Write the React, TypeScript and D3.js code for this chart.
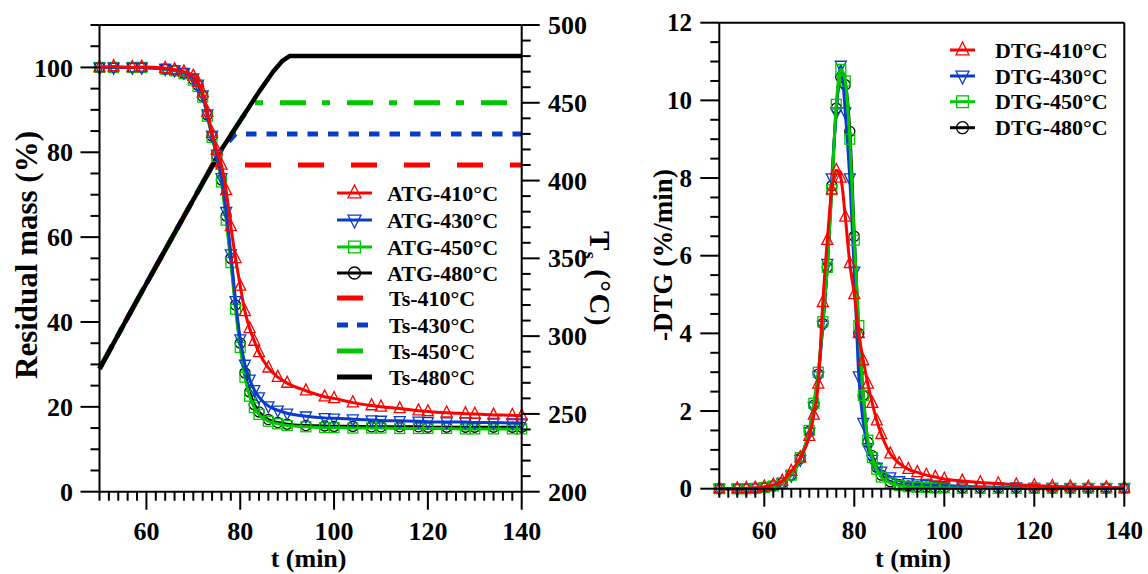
import React from "react";
import * as d3 from "d3";

// ---------- data ----------
const atgTime = [50, 53, 57, 59, 64, 66, 68, 70, 71, 72, 73, 74, 75, 76, 77, 78, 79, 80, 81, 82, 83, 84, 86, 88, 90, 94, 98, 100, 104, 108, 110, 114, 118, 120, 124, 128, 130, 134, 138, 140];
const atg410 = [100, 100.2, 100, 100.1, 99.8, 99.5, 99, 98, 96.5, 94, 89.5, 84.5, 80.5, 77, 71, 62.5, 55, 48.5, 42.5, 38.5, 35.5, 32.8, 29.2, 27, 25.6, 23.8, 22.4, 22, 21, 20.3, 20, 19.6, 19.1, 18.9, 18.6, 18.4, 18.3, 18.1, 18, 17.9];
const atg430 = [100, 100, 100, 100, 99.7, 99.4, 98.8, 97.5, 96, 93.5, 89, 84, 79.5, 74, 66, 56, 45, 36, 30, 26.5, 24, 22.3, 20.2, 19.2, 18.5, 17.8, 17.4, 17.3, 17.1, 16.9, 16.8, 16.7, 16.6, 16.5, 16.4, 16.4, 16.3, 16.3, 16.2, 16.2];
const atg450 = [100, 100, 100, 100, 99.6, 99.2, 98.5, 97, 95.5, 93, 88.5, 83.5, 79, 73, 64, 54, 43, 34, 27, 22.5, 19.8, 18.2, 16.6, 16, 15.6, 15.3, 15.1, 15.1, 15, 15, 15, 14.9, 14.9, 14.9, 14.9, 14.8, 14.8, 14.8, 14.8, 14.8];
const atg480 = [100, 100, 100, 100, 99.6, 99.3, 98.6, 97.2, 95.8, 93.2, 88.8, 83.8, 79.2, 73.5, 65, 55, 44, 35, 28, 23.5, 20.5, 18.8, 17, 16.3, 15.9, 15.6, 15.5, 15.4, 15.4, 15.3, 15.3, 15.3, 15.3, 15.2, 15.2, 15.2, 15.2, 15.2, 15.2, 15.2];

const dtgTime = [50, 54, 56, 58, 60, 62, 64, 66, 68, 70, 71, 72, 73, 74, 75, 76, 77, 78, 79, 80, 81, 82, 83, 84, 85, 86, 88, 90, 92, 94, 96, 98, 100, 104, 108, 112, 116, 120, 124, 128, 132, 136, 140];
const dtg410 = [0, 0, 0.01, 0.02, 0.05, 0.1, 0.2, 0.45, 0.8, 1.35, 1.9, 2.7, 4.8, 6.4, 7.7, 8.2, 8.0, 7.0, 5.8, 5.0, 4.0, 3.3, 2.7, 2.2, 1.75, 1.4, 0.9, 0.65, 0.5, 0.42, 0.35, 0.3, 0.25, 0.2, 0.16, 0.13, 0.1, 0.08, 0.06, 0.05, 0.04, 0.03, 0.02];
const dtg430 = [0, 0, 0, 0.01, 0.03, 0.07, 0.15, 0.35, 0.75, 1.45, 2.1, 2.9, 4.2, 5.8, 8.0, 9.7, 10.9, 9.7, 8.0, 5.6, 2.9, 1.7, 1.05, 0.75, 0.55, 0.45, 0.3, 0.2, 0.15, 0.12, 0.1, 0.09, 0.08, 0.06, 0.05, 0.04, 0.04, 0.03, 0.03, 0.02, 0.02, 0.02, 0.02];
const dtg450 = [0, 0, 0, 0.01, 0.03, 0.07, 0.15, 0.35, 0.8, 1.5, 2.2, 3.0, 4.3, 5.7, 7.7, 9.9, 10.8, 10.5, 9.0, 6.4, 4.2, 2.4, 1.25, 0.8, 0.5, 0.3, 0.15, 0.08, 0.05, 0.04, 0.03, 0.02, 0.02, 0.01, 0.01, 0.01, 0.01, 0.01, 0.01, 0.01, 0.01, 0.01, 0.01];
const dtg480 = [0, 0, 0, 0.01, 0.03, 0.07, 0.15, 0.35, 0.78, 1.48, 2.15, 2.95, 4.25, 5.7, 7.8, 9.8, 10.6, 10.4, 9.2, 6.5, 4.0, 2.4, 1.2, 0.85, 0.55, 0.35, 0.18, 0.1, 0.07, 0.05, 0.04, 0.03, 0.03, 0.02, 0.02, 0.02, 0.02, 0.01, 0.01, 0.01, 0.01, 0.01, 0.01];

const tsTime410 = [50, 58, 68, 74.1, 140];
const ts410 = [279, 323, 377, 410, 410];
const tsTime430 = [50, 58, 68, 76, 79, 140];
const ts430 = [279, 323, 377, 420, 430, 430];
const tsTime450 = [50, 58, 68, 76, 82.5, 140];
const ts450 = [279, 323, 377, 420, 450, 450];
const tsTime480 = [50, 58, 68, 76, 84, 87, 89, 90.5, 140];
const ts480 = [279, 323, 377, 420, 457, 470, 477, 480, 480];

const timeMajorTicks = [60, 80, 100, 120, 140];
const massMajorTicks = [0, 20, 40, 60, 80, 100];
const tempMajorTicks = [200, 250, 300, 350, 400, 450, 500];
const dtgMajorTicks = [0, 2, 4, 6, 8, 10, 12];

const atgLabels = ["ATG-410°C", "ATG-430°C", "ATG-450°C", "ATG-480°C"];
const tsLabels = ["Ts-410°C", "Ts-430°C", "Ts-450°C", "Ts-480°C"];
const dtgLabels = ["DTG-410°C", "DTG-430°C", "DTG-450°C", "DTG-480°C"];

// ---------- styles ----------
const RED = "#ff0000";
const BLUE = "#0a3ccc";
const GREEN = "#00c800";
const BLACK = "#000000";
const FONT = "'Liberation Serif', 'Times New Roman', Times, serif";

type Shape = "up" | "down" | "square" | "circle";

function Marker({ shape, x, y, color, s = 11 }: { shape: Shape; x: number; y: number; color: string; s?: number }) {
  const common = { fill: "none", stroke: color, strokeWidth: 1.3 };
  if (shape === "up") {
    return <polygon points={`${x},${y - s * 0.62} ${x - s / 2},${y + s * 0.38} ${x + s / 2},${y + s * 0.38}`} {...common} />;
  }
  if (shape === "down") {
    return <polygon points={`${x},${y + s * 0.62} ${x - s / 2},${y - s * 0.38} ${x + s / 2},${y - s * 0.38}`} {...common} />;
  }
  if (shape === "square") {
    const h = s * 0.45;
    return <rect x={x - h} y={y - h} width={2 * h} height={2 * h} {...common} />;
  }
  return <circle cx={x} cy={y} r={s * 0.46} {...common} />;
}

export default function App() {
  // left panel scales
  const xL = d3.scaleLinear().domain([50, 140]).range([99.5, 521.7]);
  const yMass = d3.scaleLinear().domain([0, 110]).range([491.7, 25]);
  const yTemp = d3.scaleLinear().domain([200, 500]).range([491.7, 25]);
  // right panel scales
  const xR = d3.scaleLinear().domain([50, 140]).range([719.3, 1124.3]);
  const yDtg = d3.scaleLinear().domain([0, 12]).range([488.7, 22.7]);

  const minorTime = d3.range(50, 141, 2);
  const minorMass = d3.range(0, 111, 5);
  const minorTemp = d3.range(200, 501, 10);
  const minorDtg = d3.range(0, 12.01, 0.5);

  const curveLine = (xs: any, ys: any, tt: number[], vv: number[]) =>
    d3
      .line<number>()
      .x((_, i) => xs(tt[i]))
      .y((v) => ys(v))
      .curve(d3.curveMonotoneX)(vv) || "";

  const tsLine = (tt: number[], vv: number[]) =>
    d3
      .line<number>()
      .x((_, i) => xL(tt[i]))
      .y((v) => yTemp(v))(vv) || "";

  // dash offset so that the visible flat part starts with a dash at xTarget
  const dashOffset = (tt: number[], vv: number[], period: number, xTarget: number) => {
    let len = 0;
    const n = tt.length - 2; // corner index
    for (let i = 1; i <= n; i++) {
      const dx = xL(tt[i]) - xL(tt[i - 1]);
      const dy = yTemp(vv[i]) - yTemp(vv[i - 1]);
      len += Math.sqrt(dx * dx + dy * dy);
    }
    const s = len + (xTarget - xL(tt[n]));
    return period - (s % period);
  };

  const atgSeries = [
    { vals: atg480, color: BLACK, shape: "circle" as Shape },
    { vals: atg450, color: GREEN, shape: "square" as Shape },
    { vals: atg430, color: BLUE, shape: "down" as Shape },
    { vals: atg410, color: RED, shape: "up" as Shape },
  ];
  const dtgSeries = [
    { vals: dtg480, color: BLACK, shape: "circle" as Shape },
    { vals: dtg430, color: BLUE, shape: "down" as Shape },
    { vals: dtg450, color: GREEN, shape: "square" as Shape },
    { vals: dtg410, color: RED, shape: "up" as Shape },
  ];
  const legendSeries = [
    { color: RED, shape: "up" as Shape },
    { color: BLUE, shape: "down" as Shape },
    { color: GREEN, shape: "square" as Shape },
    { color: BLACK, shape: "circle" as Shape },
  ];

  const axisStroke = { stroke: "#000", strokeWidth: 2 };
  const tickFont = { fontFamily: FONT, fontWeight: 700 as const, fill: "#000" };

  const x0L = xL.range()[0], x1L = xL.range()[1];
  const y0L = yMass.range()[0], y1L = yMass.range()[1];
  const x0R = xR.range()[0], x1R = xR.range()[1];
  const y0R = yDtg.range()[0], y1R = yDtg.range()[1];

  const legendYAtg = [193, 220, 247, 273];
  const legendYTs = [298, 325, 351, 377];
  const legendYDtg = [50, 76, 101.7, 127.7];

  return (
    <svg width={1148} height={574} style={{ position: "absolute", left: 0, top: 0, background: "#fff" }}>
      <rect x={0} y={0} width={1148} height={574} fill="#fff" />

      {/* ================= LEFT PANEL ================= */}
      <path d={tsLine(tsTime410, ts410)} fill="none" stroke={RED} strokeWidth={5}
        strokeDasharray="26 27" strokeDashoffset={dashOffset(tsTime410, ts410, 53, 245)} />
      <path d={tsLine(tsTime430, ts430)} fill="none" stroke={BLUE} strokeWidth={5}
        strokeDasharray="10.5 10" strokeDashoffset={dashOffset(tsTime430, ts430, 20.5, 246)} />
      <path d={tsLine(tsTime450, ts450)} fill="none" stroke={GREEN} strokeWidth={5}
        strokeDasharray="26 16 8 17" strokeDashoffset={dashOffset(tsTime450, ts450, 67, 280)} />
      <path d={tsLine(tsTime480, ts480)} fill="none" stroke={BLACK} strokeWidth={4.5} strokeLinejoin="round" />

      {atgSeries.map((s, k) => (
        <g key={"atg" + k}>
          <path d={curveLine(xL, yMass, atgTime, s.vals)} fill="none" stroke={s.color} strokeWidth={3} />
          {s.vals.map((v, i) => (
            <Marker key={i} shape={s.shape} x={xL(atgTime[i])} y={yMass(v)} color={s.color} />
          ))}
        </g>
      ))}

      <line x1={x0L} y1={y1L} x2={x1L} y2={y1L} {...axisStroke} />
      <line x1={x0L} y1={y0L} x2={x1L} y2={y0L} {...axisStroke} />
      <line x1={x0L} y1={y0L} x2={x0L} y2={y1L} {...axisStroke} />
      <line x1={x1L} y1={y0L} x2={x1L} y2={y1L} {...axisStroke} />

      {minorTime.map((t) => (
        <line key={"lxm" + t} x1={xL(t)} x2={xL(t)} y1={y0L} y2={y0L + (timeMajorTicks.includes(t) ? 18 : 9)} {...axisStroke} />
      ))}
      {timeMajorTicks.map((t) => (
        <text key={"lxl" + t} x={xL(t)} y={540} textAnchor="middle" fontSize={26} {...tickFont}>{t}</text>
      ))}
      {minorMass.map((m) => (
        <line key={"lym" + m} x1={x0L} x2={x0L - (massMajorTicks.includes(m) ? 19 : 9)} y1={yMass(m)} y2={yMass(m)} {...axisStroke} />
      ))}
      {massMajorTicks.map((m) => (
        <text key={"lyl" + m} x={73} y={yMass(m)} dy="0.35em" textAnchor="end" fontSize={26} {...tickFont}>{m}</text>
      ))}
      {minorTemp.map((T) => (
        <line key={"rym" + T} x1={x1L} x2={x1L + (tempMajorTicks.includes(T) ? 18 : 9)} y1={yTemp(T)} y2={yTemp(T)} {...axisStroke} />
      ))}
      {tempMajorTicks.map((T) => (
        <text key={"ryl" + T} x={548} y={yTemp(T)} dy="0.35em" textAnchor="start" fontSize={26} {...tickFont}>{T}</text>
      ))}

      <text x={(x0L + x1L) / 2 - 2} y={567} textAnchor="middle" fontSize={26} {...tickFont}>t (min)</text>
      <text transform="translate(37,255) rotate(-90)" textAnchor="middle" fontSize={31} {...tickFont}>Residual mass (%)</text>
      <text transform="translate(590,279) rotate(90)" textAnchor="middle" fontSize={29} letterSpacing={1.5} {...tickFont}>
        T<tspan fontSize={18} dy={6}>s</tspan><tspan dy={-6}> (°C)</tspan>
      </text>

      {legendSeries.map((s, k) => (
        <g key={"la" + k}>
          <line x1={337} x2={372} y1={legendYAtg[k]} y2={legendYAtg[k]} stroke={s.color} strokeWidth={3} />
          <Marker shape={s.shape} x={354.5} y={legendYAtg[k]} color={s.color} s={13} />
          <text x={387} y={legendYAtg[k]} dy="0.35em" fontSize={22} {...tickFont}>{atgLabels[k]}</text>
        </g>
      ))}
      <line x1={337} x2={363} y1={legendYTs[0]} y2={legendYTs[0]} stroke={RED} strokeWidth={5} />
      <line x1={337} x2={368} y1={legendYTs[1]} y2={legendYTs[1]} stroke={BLUE} strokeWidth={5} strokeDasharray="11 9" />
      <line x1={337} x2={363} y1={legendYTs[2]} y2={legendYTs[2]} stroke={GREEN} strokeWidth={5} />
      <line x1={337} x2={372} y1={legendYTs[3]} y2={legendYTs[3]} stroke={BLACK} strokeWidth={5} />
      {tsLabels.map((l, k) => (
        <text key={"lt" + k} x={389} y={legendYTs[k]} dy="0.35em" fontSize={22} {...tickFont}>{l}</text>
      ))}

      {/* ================= RIGHT PANEL ================= */}
      {dtgSeries.map((s, k) => (
        <g key={"dtg" + k}>
          <path d={curveLine(xR, yDtg, dtgTime, s.vals)} fill="none" stroke={s.color} strokeWidth={3} />
          {s.vals.map((v, i) => (
            <Marker key={i} shape={s.shape} x={xR(dtgTime[i])} y={yDtg(v)} color={s.color} />
          ))}
        </g>
      ))}

      <line x1={x0R} y1={y1R} x2={x1R} y2={y1R} {...axisStroke} />
      <line x1={x0R} y1={y0R} x2={x1R} y2={y0R} {...axisStroke} />
      <line x1={x0R} y1={y0R} x2={x0R} y2={y1R} {...axisStroke} />
      <line x1={x1R} y1={y0R} x2={x1R} y2={y1R} {...axisStroke} />

      {minorTime.map((t) => (
        <line key={"rxm" + t} x1={xR(t)} x2={xR(t)} y1={y0R} y2={y0R + (timeMajorTicks.includes(t) ? 18 : 9)} {...axisStroke} />
      ))}
      {timeMajorTicks.map((t) => (
        <text key={"rxl" + t} x={xR(t)} y={539} textAnchor="middle" fontSize={25} {...tickFont}>{t}</text>
      ))}
      {minorDtg.map((v) => (
        <line key={"rdm" + v} x1={x0R} x2={x0R - (dtgMajorTicks.includes(v) ? 19 : 9)} y1={yDtg(v)} y2={yDtg(v)} {...axisStroke} />
      ))}
      {dtgMajorTicks.map((v) => (
        <text key={"rdl" + v} x={692} y={yDtg(v)} dy="0.35em" textAnchor="end" fontSize={25} {...tickFont}>{v}</text>
      ))}

      <text x={913} y={567} textAnchor="middle" fontSize={26} {...tickFont}>t (min)</text>
      <text transform="translate(672,255) rotate(-90)" textAnchor="middle" fontSize={27} {...tickFont}>-DTG (%/min)</text>

      {legendSeries.map((s, k) => (
        <g key={"ld" + k}>
          <line x1={950} x2={975} y1={legendYDtg[k]} y2={legendYDtg[k]} stroke={s.color} strokeWidth={3} />
          <Marker shape={s.shape} x={962.5} y={legendYDtg[k]} color={s.color} s={13} />
          <text x={995} y={legendYDtg[k]} dy="0.35em" fontSize={22} {...tickFont}>{dtgLabels[k]}</text>
        </g>
      ))}
    </svg>
  );
}
